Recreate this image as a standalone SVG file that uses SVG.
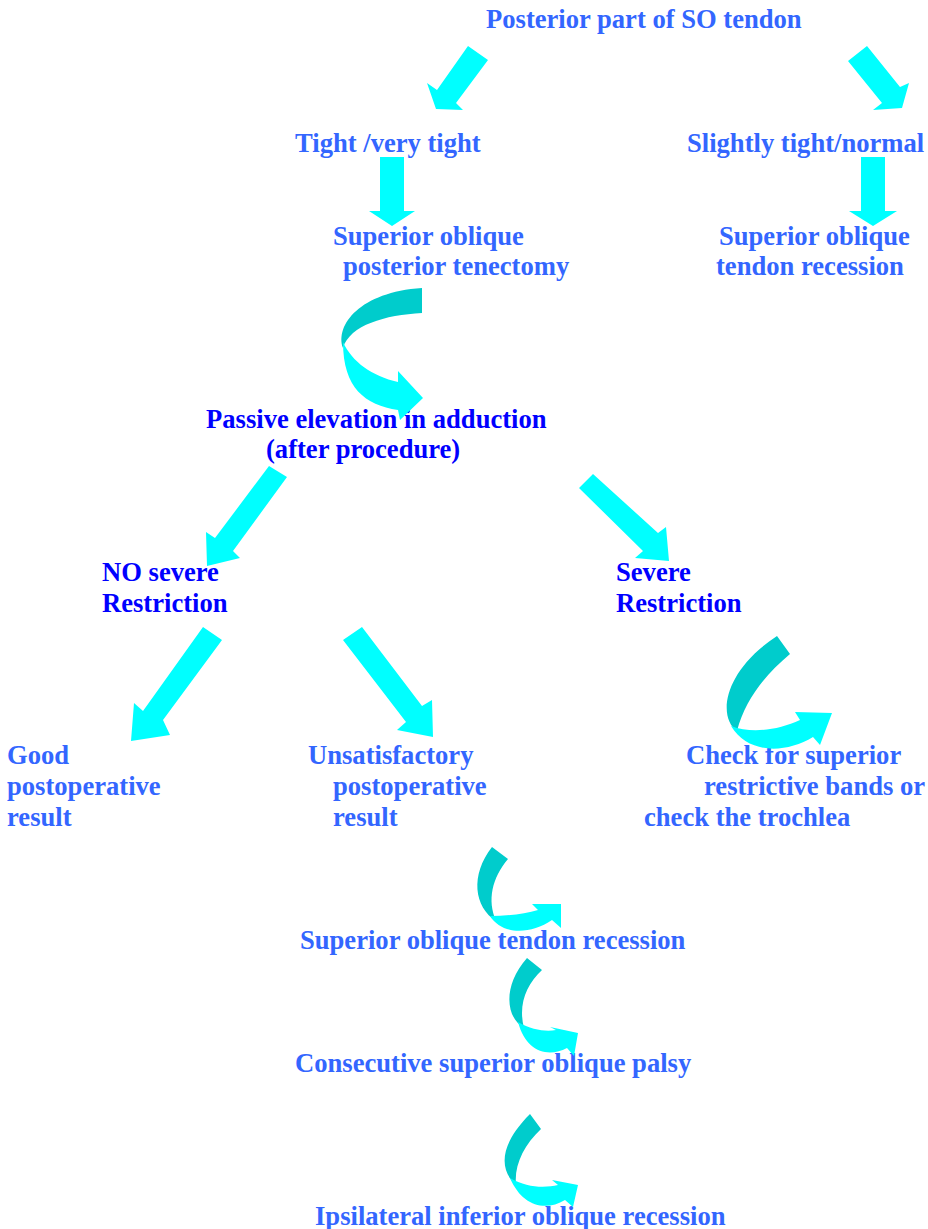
<svg xmlns="http://www.w3.org/2000/svg" width="928" height="1229" viewBox="0 0 928 1229">
<style>
text{font-family:"Liberation Serif","Times New Roman",serif;font-weight:bold;font-size:26.6px}
.l{fill:#3366FF}
.d{fill:#0000FF}
.a{fill:#00FFFF}
.k{fill:#00CCCC}
</style>
<rect width="928" height="1229" fill="#FFFFFF"/>
<g id="n-posterior"><text class="l" x="486" y="28">Posterior part of SO tendon</text></g>
<g id="n-tight"><text class="l" x="295" y="152">Tight /very tight</text></g>
<g id="n-slightly"><text class="l" x="687" y="152">Slightly tight/normal</text></g>
<g id="n-tenectomy"><text class="l" x="333" y="245">Superior oblique</text><text class="l" x="343" y="275">posterior tenectomy</text></g>
<g id="n-recession1"><text class="l" x="719" y="245">Superior oblique</text><text class="l" x="716" y="275">tendon recession</text></g>
<g id="n-passive"><text class="d" x="206" y="428">Passive elevation in adduction</text><text class="d" x="266" y="458">(after procedure)</text></g>
<g id="n-nosevere"><text class="d" x="102" y="581">NO severe</text><text class="d" x="102" y="612">Restriction</text></g>
<g id="n-severe"><text class="d" x="616" y="581">Severe</text><text class="d" x="616" y="612">Restriction</text></g>
<g id="n-good"><text class="l" x="7" y="764">Good</text><text class="l" x="7" y="795">postoperative</text><text class="l" x="7" y="826">result</text></g>
<g id="n-unsat"><text class="l" x="308" y="764">Unsatisfactory</text><text class="l" x="333" y="795">postoperative</text><text class="l" x="333" y="826">result</text></g>
<g id="n-check"><text class="l" x="686" y="764">Check for superior</text><text class="l" x="704" y="795">restrictive bands or</text><text class="l" x="644" y="826">check the trochlea</text></g>
<g id="n-recession2"><text class="l" x="300" y="949">Superior oblique tendon recession</text></g>
<g id="n-palsy"><text class="l" x="295" y="1072">Consecutive superior oblique palsy</text></g>
<g id="n-ipsi"><text class="l" x="315" y="1225">Ipsilateral inferior oblique recession</text></g>
<g id="connectors">
<polygon class="a" points="468,46 488,60 456,103 463,110 436,109 427,83 437,90"/>
<polygon class="a" points="848,61 867,46 900,87 909,83 902,108 873,110 882,103"/>
<polygon class="a" points="380,157 404,157 404,211 415,211 392,226 369,211 380,211"/>
<polygon class="a" points="861,157 885,157 885,211 897,211 873,226 849,211 861,211"/>
<path class="k" d="M422,288 L422,313 C385,315 350,325 343,348 C335,325 360,292 422,288 Z"/>
<path class="a" d="M343,342 C352,362 372,376 398,382 L398,371 L423,398 L400,420 L398,410 C365,405 343,388 343,342 Z"/>
<polygon class="a" points="269,466 287,477 233,551 240,558 207,566 206,532 215,538"/>
<polygon class="a" points="579,488 593,474 658,533 666,527 669,561 635,558 643,551"/>
<polygon class="a" points="203,627 222,640 163,720 170,735 131,741 134,703 143,711"/>
<polygon class="a" points="343,640 362,627 422,706 432,700 433,737 397,730 406,722"/>
<path class="k" d="M777,636 L790,654 C765,675 745,700 737,731 C718,718 722,672 777,636 Z"/>
<path class="a" d="M731,726 C752,734 778,730 800,720 L795,712 L832,713 L820,745 L813,737 C785,754 748,754 731,726 Z"/>
<path class="k" d="M492,847 L508,859 C492,878 487,900 496,921 C474,907 470,875 492,847 Z"/>
<path class="a" d="M490,916 C507,916 525,914 538,910 L532,904 L561,904 L561,928 L552,920 C530,935 502,935 490,916 Z"/>
<path class="k" d="M527,958 L542,970 C526,985 518,1005 524,1028 C505,1017 503,985 527,958 Z"/>
<path class="a" d="M518,1022 C532,1030 546,1032 556,1030 L550,1027 L578,1033 L574,1056 L567,1048 C548,1058 526,1052 518,1022 Z"/>
<path class="k" d="M530,1114 L541,1129 C524,1145 514,1165 516,1185 C499,1170 499,1145 530,1114 Z"/>
<path class="a" d="M510,1178 C527,1188 545,1188 558,1185 L552,1180 L578,1185 L573,1207 L565,1200 C545,1212 522,1206 510,1178 Z"/>
</g>
</svg>
